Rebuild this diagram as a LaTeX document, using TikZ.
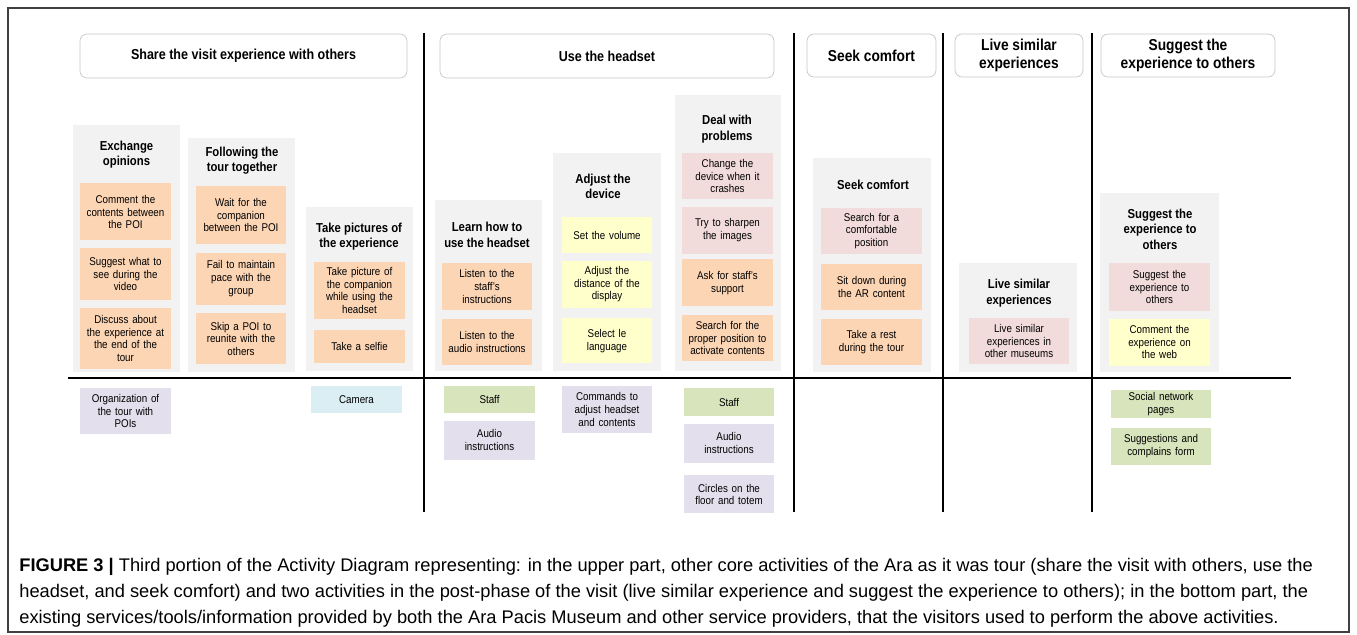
\documentclass[tikz,border=0pt]{standalone}
\usepackage{fontspec}
\setmainfont{Liberation Sans}[FakeStretch=0.87]
\newfontfamily\capfont{Liberation Sans}
\usetikzlibrary{positioning}
\definecolor{orng}{HTML}{FCD5B4}
\definecolor{pnk}{HTML}{F2DCDB}
\definecolor{ylw}{HTML}{FFFFCC}
\definecolor{lav}{HTML}{E4DFEC}
\definecolor{sky}{HTML}{DAEEF3}
\definecolor{grn}{HTML}{D8E4BC}
\definecolor{pnl}{HTML}{F2F2F2}
\begin{document}
\begin{tikzpicture}[x=0.02cm, y=-0.02cm,
   head/.style={draw=black!22, rounded corners=0.14cm, fill=white, align=center, inner sep=0pt, font=\fontsize{8.2}{9.6}\selectfont\bfseries},
   bighead/.style={head, font=\fontsize{9}{9.8}\selectfont\bfseries},
   title/.style={align=center, inner sep=0pt, font=\fontsize{7.4}{8.8}\selectfont\bfseries},
   card/.style={fill=#1, text width=1.72cm, inner xsep=0.05cm, inner ysep=0pt, align=center, font=\fontsize{6.4}{7.2}\selectfont},
   wide/.style={text width=1.92cm},
   tall/.style={minimum height=#1*0.02cm},
   sep/.style={line width=1pt}]
   \useasboundingbox (0,0) rectangle (1357,635);
   \draw[black!75, line width=0.6pt] (8,8) rectangle (1349,632);
   % headers
   \node[head, minimum width=6.54cm, minimum height=0.88cm] (share) at (243.5,56) {Share the visit experience with others};
   \node[head, minimum width=6.68cm, minimum height=0.88cm] (headset) at (607,56) {Use the headset};
   \node[bighead, minimum width=2.58cm, minimum height=0.86cm] (comfort) at (871.5,55.5) {Seek comfort};
   \node[bighead, minimum width=2.56cm, minimum height=0.86cm] (similar) at (1019,55.5) {Live similar\\experiences};
   \node[bighead, minimum width=3.48cm, minimum height=0.86cm] (suggest) at (1188,55.5) {Suggest the\\experience to others};
   % separators
   \draw[sep] (424,33) -- (424,512);
   \draw[sep] (794,33) -- (794,512);
   \draw[sep] (943,33) -- (943,512);
   \draw[sep] (1092,33) -- (1092,512);
   \draw[line width=1.3pt] (68,378) -- (1291,378);
   % panels
   \fill[pnl] (73,125) rectangle (180,372);
   \fill[pnl] (188,138) rectangle (295,372);
   \fill[pnl] (306,207) rectangle (413,371);
   \fill[pnl] (435,200) rectangle (542,371);
   \fill[pnl] (553,153) rectangle (661,371);
   \fill[pnl] (675,95) rectangle (781,371);
   \fill[pnl] (813,158) rectangle (931,372);
   \fill[pnl] (959,263) rectangle (1077,372);
   \fill[pnl] (1100,193) rectangle (1219,372);
   % titles
   \node[title] (tA) at (126.5,154.5) {Exchange\\opinions};
   \node[title] (tB) at (242,160.5) {Following the\\tour together};
   \node[title] (tC) at (359,236.5) {Take pictures of\\the experience};
   \node[title] (tD) at (487,235) {Learn how to\\use the headset};
   \node[title] (tE) at (603,186.5) {Adjust the\\device};
   \node[title] (tF) at (727,129) {Deal with\\problems};
   \node[title] (tG) at (873,185) {Seek comfort};
   \node[title] (tH) at (1019,293) {Live similar\\experiences};
   \node[title] (tI) at (1160,229) {Suggest the\\experience to\\others};
   % activities
   \node[card=orng, tall=57] (A1) at (125.5,212) {Comment the\\contents between\\the POI};
   \node[card=orng, tall=52, below=0.14cm of A1] (A2) {Suggest what to\\see during the\\video};
   \node[card=orng, tall=61, below=0.14cm of A2] (A3) {Discuss about\\the experience at\\the end of the\\tour};
   \node[card=orng, tall=58] (B1) at (241,215) {Wait for the\\companion\\between the POI};
   \node[card=orng, tall=52, below=0.16cm of B1] (B2) {Fail to maintain\\pace with the\\group};
   \node[card=orng, tall=51, below=0.16cm of B2] (B3) {Skip a POI to\\reunite with the\\others};
   \node[card=orng, tall=57] (C1) at (359.5,290.5) {Take picture of\\the companion\\while using the\\headset};
   \node[card=orng, tall=33, below=0.2cm of C1] (C2) {Take a selfie};
   \node[card=orng, tall=47] (D1) at (487,286.5) {Listen to the\\staff's\\instructions};
   \node[card=orng, tall=46, below=0.16cm of D1] (D2) {Listen to the\\audio instructions};
   \node[card=ylw, tall=36] (E1) at (607,235) {Set the volume};
   \node[card=ylw, tall=47, below=0.14cm of E1] (E2) {Adjust the\\distance of the\\display};
   \node[card=ylw, tall=45, below=0.2cm of E2] (E3) {Select le\\language};
   \node[card=pnk, tall=46] (F1) at (727.5,176) {Change the\\device when it\\crashes};
   \node[card=pnk, tall=47, below=0.14cm of F1] (F2) {Try to sharpen\\the images};
   \node[card=orng, tall=47, below=0.1cm of F2] (F3) {Ask for staff's\\support};
   \node[card=orng, tall=46, below=0.16cm of F3] (F4) {Search for the\\proper position to\\activate contents};
   \node[card=pnk, wide, tall=46] (G1) at (871.5,231) {Search for a\\comfortable\\position};
   \node[card=orng, wide, tall=46, below=0.18cm of G1] (G2) {Sit down during\\the AR content};
   \node[card=orng, wide, tall=46, below=0.18cm of G2] (G3) {Take a rest\\during the tour};
   \node[card=pnk, wide, tall=46] (H1) at (1019,341) {Live similar\\experiences in\\other museums};
   \node[card=pnk, wide, tall=48] (I1) at (1159.5,287) {Suggest the\\experience to\\others};
   \node[card=ylw, wide, tall=47, below=0.14cm of I1] (I2) {Comment the\\experience on\\the web};
   % services
   \node[card=lav, tall=46] (org) at (125.5,411) {Organization of\\the tour with\\POIs};
   \node[card=sky, tall=27] (camera) at (356.5,399.5) {Camera};
   \node[card=grn, tall=27] (staffD) at (489.5,399.5) {Staff};
   \node[card=lav, tall=39, below=0.14cm of staffD] (audioD) {Audio\\instructions};
   \node[card=lav, tall=47] (cmds) at (607,409.5) {Commands to\\adjust headset\\and contents};
   \node[card=grn, tall=28] (staffF) at (729,402) {Staff};
   \node[card=lav, tall=39, below=0.14cm of staffF] (audioF) {Audio\\instructions};
   \node[card=lav, tall=38, below=0.24cm of audioF] (circles) {Circles on the\\floor and totem};
   \node[card=grn, wide, tall=28] (social) at (1161,404) {Social network\\pages};
   \node[card=grn, wide, tall=37, below=0.18cm of social] (complain) {Suggestions and\\complains form};
   % caption
   \node[anchor=north west, align=left, inner sep=0pt, font=\capfont\fontsize{10.4}{14.7}\selectfont] (cap) at (19,558)
     {\textbf{FIGURE 3 |} Third portion of the Activity Diagram representing: in the upper part, other core activities of the Ara as it was tour (share the visit with others, use the\\
      headset, and seek comfort) and two activities in the post-phase of the visit (live similar experience and suggest the experience to others); in the bottom part, the\\
      existing services/tools/information provided by both the Ara Pacis Museum and other service providers, that the visitors used to perform the above activities.};
\end{tikzpicture}
\end{document}
